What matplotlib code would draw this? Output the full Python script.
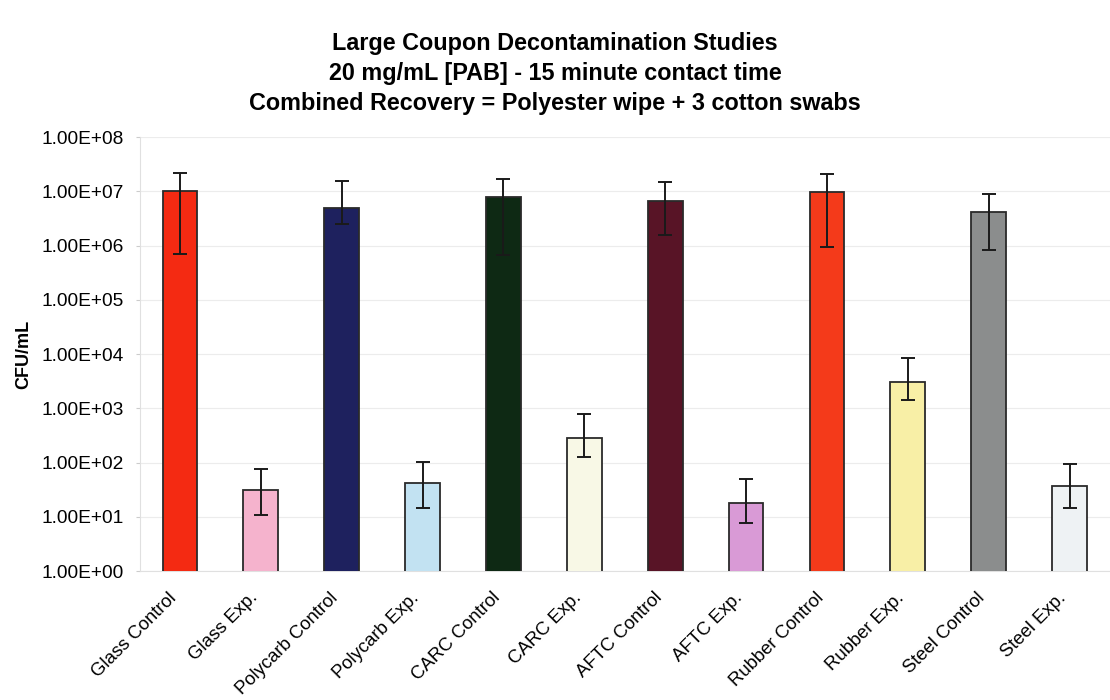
import numpy as np
import matplotlib
matplotlib.use("Agg")
import matplotlib.pyplot as plt
import matplotlib.transforms as mtransforms
from matplotlib.ticker import FixedLocator, FuncFormatter

plt.rcParams['font.family'] = ['Liberation Sans', 'DejaVu Sans']

categories = ["Glass Control", "Glass Exp.", "Polycarb Control", "Polycarb Exp.",
              "CARC Control", "CARC Exp.", "AFTC Control", "AFTC Exp.",
              "Rubber Control", "Rubber Exp.", "Steel Control", "Steel Exp."]
means = [1.0e7, 31, 4.9e6, 42, 7.8e6, 283, 6.6e6, 18, 9.7e6, 3030, 4.2e6, 37]
err_high = [2.2e7, 76, 1.55e7, 102, 1.7e7, 780, 1.5e7, 50, 2.1e7, 8400, 8.9e6, 94]
err_low = [7.0e5, 10.7, 2.5e6, 14.5, 6.6e5, 126, 1.6e6, 7.7, 9.4e5, 1420, 8.3e5, 14.5]
colors = ["#F42A12", "#F5B3CD", "#1E215E", "#C2E2F2", "#0E2914", "#F8F8E6",
          "#581426", "#D99AD6", "#F43A1A", "#F8EFA6", "#8B8D8D", "#EEF2F4"]
yticks = [1e0, 1e1, 1e2, 1e3, 1e4, 1e5, 1e6, 1e7, 1e8]

means = np.array(means)
yerr = [means - np.array(err_low), np.array(err_high) - means]

fig = plt.figure(figsize=(11.1, 7), dpi=100)
ax = fig.add_axes([0.1257, 0.184, 0.8743, 0.62])

x = np.arange(len(categories))
ax.bar(x, means, width=0.43, color=colors, edgecolor="#2a2a2a", linewidth=1.3,
       yerr=yerr, error_kw=dict(ecolor="#1a1a1a", elinewidth=1.4, capsize=5, capthick=1.4),
       zorder=3)

ax.set_yscale("log")
ax.set_ylim(1, 1e8)
ax.set_xlim(-0.5, len(categories) - 0.5)
ax.yaxis.set_major_locator(FixedLocator(yticks))
ax.yaxis.set_minor_locator(FixedLocator([]))
ax.yaxis.set_major_formatter(FuncFormatter(lambda v, p: "%.2E" % v))
ax.grid(axis="y", color="#ececec", linewidth=0.8, zorder=0)

ax.set_xticks(x)
ax.set_xticklabels(categories, rotation=45, ha="right", rotation_mode="anchor", fontsize=13.3)
ax.tick_params(axis="x", length=0, pad=13)
ax.tick_params(axis="y", labelsize=13.8, length=3, color="#cccccc", pad=8)
# nudge the rotated labels a little to the left, as in the original
shift = mtransforms.ScaledTranslation(-12 / 100, 0, fig.dpi_scale_trans)
for lab in ax.get_xticklabels():
    lab.set_transform(lab.get_transform() + shift)

for s in ["top", "right"]:
    ax.spines[s].set_visible(False)
for s in ["left", "bottom"]:
    ax.spines[s].set_color("#e0e0e0")

ax.set_ylabel("CFU/mL", fontsize=13, fontweight="bold", labelpad=7)

fig.text(0.5, 0.938, "Large Coupon Decontamination Studies", ha="center", va="center",
         fontsize=16.8, fontweight="bold")
fig.text(0.5, 0.895, "20 mg/mL [PAB] - 15 minute contact time", ha="center", va="center",
         fontsize=16.8, fontweight="bold")
fig.text(0.5, 0.852, "Combined Recovery = Polyester wipe + 3 cotton swabs", ha="center",
         va="center", fontsize=16.8, fontweight="bold")

fig.savefig("out.png", dpi=100)
